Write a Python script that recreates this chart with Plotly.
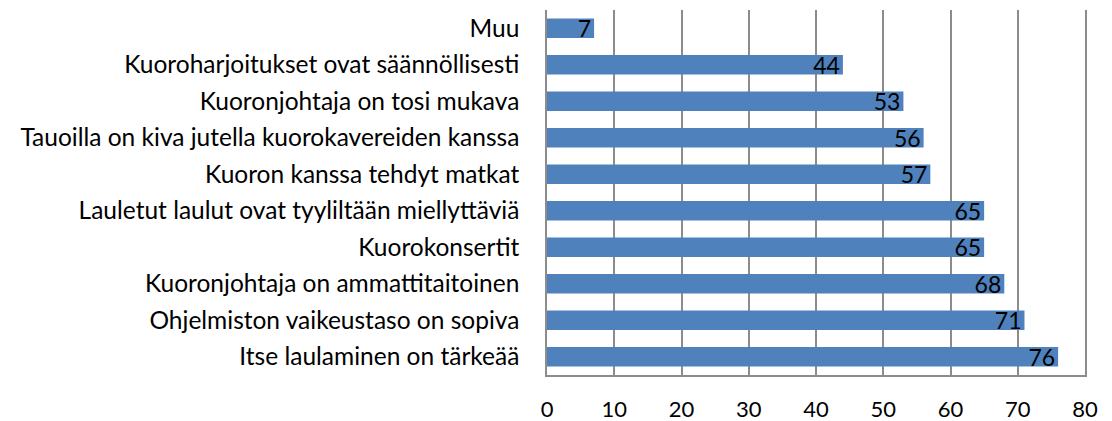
import plotly.graph_objects as go

categories = [
    "Itse laulaminen on tärkeää",
    "Ohjelmiston vaikeustaso on sopiva",
    "Kuoronjohtaja on ammattitaitoinen",
    "Kuorokonsertit",
    "Lauletut laulut ovat tyyliltään miellyttäviä",
    "Kuoron kanssa tehdyt matkat",
    "Tauoilla on kiva jutella kuorokavereiden kanssa",
    "Kuoronjohtaja on tosi mukava",
    "Kuoroharjoitukset ovat säännöllisesti",
    "Muu",
]
values = [76, 71, 68, 65, 65, 57, 56, 53, 44, 7]
x_ticks = [0, 10, 20, 30, 40, 50, 60, 70, 80]

FONT = "Lato, Calibri, Carlito, sans-serif"

fig = go.Figure(
    go.Bar(
        y=categories,
        x=values,
        orientation="h",
        marker=dict(color="#4F81BD", line=dict(width=0)),
        text=[str(v) for v in values],
        textposition="inside",
        insidetextanchor="end",
        textangle=0,
        constraintext="none",
        textfont=dict(family=FONT, size=23, color="black"),
        cliponaxis=False,
    )
)

fig.update_layout(
    width=1112,
    height=421,
    margin=dict(l=547, r=27, t=10, b=46),
    paper_bgcolor="white",
    plot_bgcolor="white",
    bargap=0.46,
    showlegend=False,
    font=dict(family=FONT, size=24, color="black"),
)

fig.update_xaxes(
    range=[0, 80],
    tickvals=x_ticks,
    ticktext=[str(t) for t in x_ticks],
    showgrid=True,
    gridcolor="#8C8C8C",
    gridwidth=1.5,
    showline=True,
    linecolor="#8C8C8C",
    linewidth=1.5,
    mirror=False,
    zeroline=False,
    ticks="",
    automargin=False,
    ticklabelstandoff=14,
    tickfont=dict(family=FONT, size=22, color="black"),
)

fig.update_yaxes(
    showgrid=False,
    showline=True,
    linecolor="#8C8C8C",
    linewidth=1.5,
    mirror=True,
    ticks="",
    automargin=False,
    ticklabelstandoff=21,
    tickfont=dict(family=FONT, size=24.5, color="black"),
)

fig.write_html(
    "out.html",
    config={"displayModeBar": False},
    post_script="document.body.style.margin='0';",
)
